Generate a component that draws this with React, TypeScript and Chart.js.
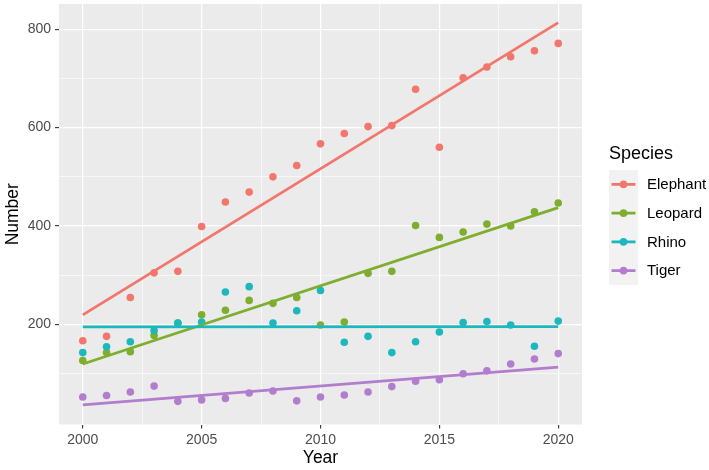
import React, { useEffect, useRef } from 'react';
import { Chart, registerables } from 'chart.js';

Chart.register(...registerables);

const years = [2000, 2001, 2002, 2003, 2004, 2005, 2006, 2007, 2008, 2009, 2010, 2011, 2012, 2013, 2014, 2015, 2016, 2017, 2018, 2019, 2020];
const elephant = [167, 176, 255, 305, 308, 399, 449, 469, 500, 523, 567, 588, 602, 604, 678, 560, 701, 723, 744, 756, 771];
const leopard = [127, 143, 145, 178, 203, 220, 229, 249, 243, 255, 199, 205, 304, 308, 401, 377, 388, 404, 400, 429, 447];
const rhino = [143, 155, 165, 188, 203, 205, 266, 277, 203, 228, 269, 164, 176, 143, 165, 185, 204, 206, 199, 156, 207];
const tiger = [53, 56, 63, 75, 44, 47, 50, 61, 65, 45, 53, 57, 63, 74, 85, 88, 100, 106, 120, 130, 141];

const speciesNames = ['Elephant', 'Leopard', 'Rhino', 'Tiger'];
const speciesColors = ['#F3766C', '#7EAE2E', '#1CB8BE', '#B27DCC'];

const xTickValues = [2000, 2002.5, 2005, 2007.5, 2010, 2012.5, 2015, 2017.5, 2020];
const xMajorTicks = [2000, 2005, 2010, 2015, 2020];
const yTickValues = [100, 200, 300, 400, 500, 600, 700, 800];
const yMajorTicks = [200, 400, 600, 800];

const FONT = "'Liberation Sans', Arial, Helvetica, sans-serif";

function linearFit(xs: number[], ys: number[]) {
  const n = xs.length;
  const mx = xs.reduce((a, b) => a + b, 0) / n;
  const my = ys.reduce((a, b) => a + b, 0) / n;
  let sxy = 0, sxx = 0;
  for (let i = 0; i < n; i++) {
    sxy += (xs[i] - mx) * (ys[i] - my);
    sxx += (xs[i] - mx) * (xs[i] - mx);
  }
  const b = sxy / sxx;
  const a = my - b * mx;
  const x0 = xs[0], x1 = xs[n - 1];
  return [{ x: x0, y: a + b * x0 }, { x: x1, y: a + b * x1 }];
}

export default function App() {
  const ref = useRef<HTMLCanvasElement | null>(null);

  useEffect(() => {
    const canvas = ref.current;
    if (!canvas) return;
    const series = [elephant, leopard, rhino, tiger];

    const lineSets = series.map((s, i) => ({
      type: 'line' as const,
      label: speciesNames[i] + ' fit',
      data: linearFit(years, s),
      borderColor: speciesColors[i],
      backgroundColor: speciesColors[i],
      borderWidth: 2.8,
      pointRadius: 0,
      fill: false,
      order: 0,
    })).reverse();

    const pointSets = series.map((s, i) => ({
      type: 'scatter' as const,
      label: speciesNames[i],
      data: years.map((y, j) => ({ x: y, y: s[j] })),
      backgroundColor: speciesColors[i],
      borderWidth: 0,
      pointRadius: 3.8,
      order: 1,
    })).reverse();

    const bgPlugin = {
      id: 'panelBg',
      beforeDraw(chart: any) {
        const { ctx, chartArea } = chart;
        ctx.save();
        ctx.fillStyle = '#FFFFFF';
        ctx.fillRect(0, 0, chart.width, chart.height);
        ctx.fillStyle = '#EBEBEB';
        ctx.fillRect(chartArea.left, chartArea.top, chartArea.right - chartArea.left, chartArea.bottom - chartArea.top);
        ctx.restore();
      },
    };

    const legendPlugin = {
      id: 'ggLegend',
      afterDraw(chart: any) {
        const ctx = chart.ctx;
        ctx.save();
        ctx.fillStyle = '#000000';
        ctx.font = `18px ${FONT}`;
        ctx.textBaseline = 'alphabetic';
        ctx.textAlign = 'left';
        ctx.fillText('Species', 609, 159);
        const boxX = 609, boxY = 170, boxW = 29, rowH = 28.75;
        ctx.fillStyle = '#F2F2F2';
        ctx.fillRect(boxX, boxY, boxW, rowH * speciesNames.length);
        speciesNames.forEach((name, i) => {
          const cy = boxY + rowH / 2 + i * rowH;
          ctx.strokeStyle = speciesColors[i];
          ctx.lineWidth = 2.8;
          ctx.beginPath();
          ctx.moveTo(boxX + 2.5, cy);
          ctx.lineTo(boxX + boxW - 2.5, cy);
          ctx.stroke();
          ctx.fillStyle = speciesColors[i];
          ctx.beginPath();
          ctx.arc(boxX + boxW / 2, cy, 3.8, 0, Math.PI * 2);
          ctx.fill();
          ctx.fillStyle = '#000000';
          ctx.font = `15px ${FONT}`;
          ctx.textBaseline = 'middle';
          ctx.fillText(name, 647, cy + 0.5);
        });
        ctx.restore();
      },
    };

    const chart = new Chart(canvas, {
      type: 'scatter',
      data: { datasets: [...lineSets, ...pointSets] as any },
      options: {
        animation: false,
        responsive: false,
        maintainAspectRatio: false,
        layout: { padding: { top: 4, right: 127, left: 0, bottom: 0 } },
        plugins: {
          legend: { display: false },
          tooltip: { enabled: false },
        },
        scales: {
          x: {
            type: 'linear',
            min: 1999,
            max: 2021,
            afterBuildTicks: (scale: any) => {
              scale.ticks = xTickValues.map((v) => ({ value: v }));
            },
            afterFit: (scale: any) => {
              scale.height = 45.5;
              scale.paddingLeft = 0;
              scale.paddingRight = 0;
            },
            border: { display: false },
            grid: {
              color: '#FFFFFF',
              lineWidth: (c: any) => (xMajorTicks.includes(c.tick?.value) ? 1.2 : 0.6),
              drawTicks: true,
              tickLength: 4,
              tickColor: (c: any) => (xMajorTicks.includes(c.tick?.value) ? '#333333' : 'rgba(0,0,0,0)'),
              tickWidth: 1.1,
            },
            ticks: {
              autoSkip: false,
              maxRotation: 0,
              padding: 3,
              color: '#4D4D4D',
              font: { family: FONT, size: 14 },
              callback: (v: any) => (xMajorTicks.includes(Number(v)) ? String(v) : ''),
            },
            title: {
              display: true,
              text: 'Year',
              color: '#000000',
              font: { family: FONT, size: 17.5 },
              padding: { top: 0, bottom: 1.5 },
            },
          },
          y: {
            type: 'linear',
            min: -3,
            max: 851,
            afterBuildTicks: (scale: any) => {
              scale.ticks = yTickValues.map((v) => ({ value: v }));
            },
            afterFit: (scale: any) => {
              scale.width = 59;
              scale.paddingTop = 0;
              scale.paddingBottom = 0;
            },
            border: { display: false },
            grid: {
              color: '#FFFFFF',
              lineWidth: (c: any) => (yMajorTicks.includes(c.tick?.value) ? 1.2 : 0.6),
              drawTicks: true,
              tickLength: 4,
              tickColor: (c: any) => (yMajorTicks.includes(c.tick?.value) ? '#333333' : 'rgba(0,0,0,0)'),
              tickWidth: 1.1,
            },
            ticks: {
              autoSkip: false,
              padding: 4,
              color: '#4D4D4D',
              font: { family: FONT, size: 14 },
              callback: (v: any) => (yMajorTicks.includes(Number(v)) ? String(v) : ''),
            },
            title: {
              display: true,
              text: 'Number',
              color: '#000000',
              font: { family: FONT, size: 17.5 },
              padding: { top: 2.5, bottom: 0 },
            },
          },
        },
      } as any,
      plugins: [bgPlugin, legendPlugin],
    });

    return () => chart.destroy();
  }, []);

  return (
    <div style={{ position: 'fixed', left: 0, top: 0, width: 709, height: 470, background: '#fff' }}>
      <canvas ref={ref} width={709} height={470} style={{ display: 'block' }} />
    </div>
  );
}
